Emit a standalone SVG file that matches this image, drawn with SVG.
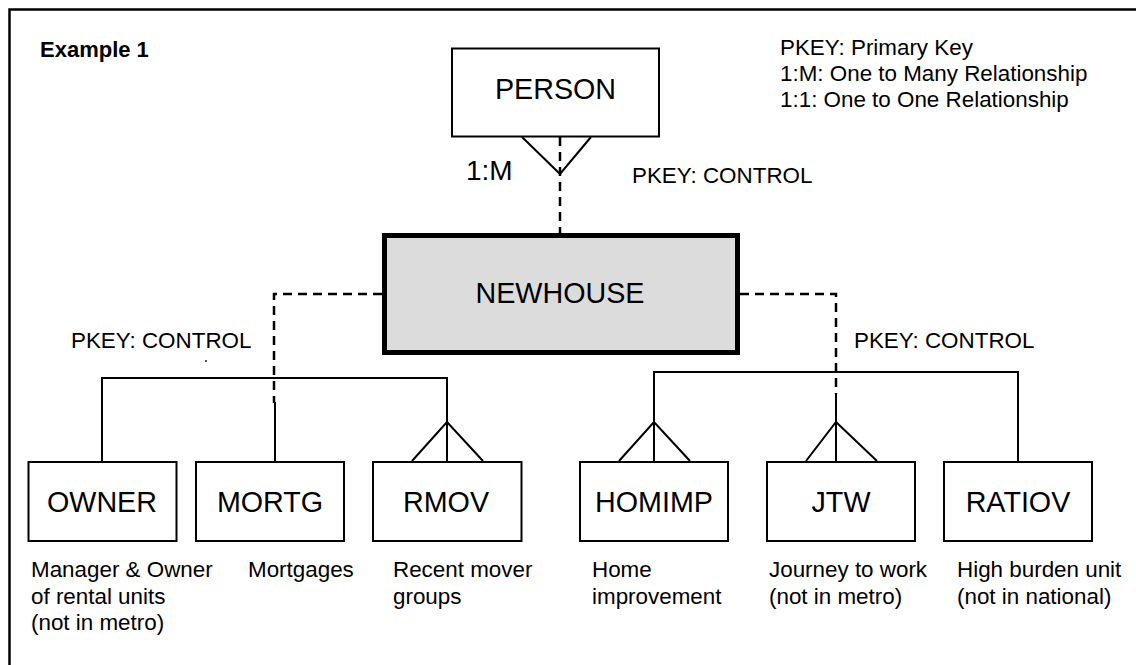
<svg xmlns="http://www.w3.org/2000/svg" width="1136" height="665" viewBox="0 0 1136 665">
<style>
text{font-family:"Liberation Sans",Arial,sans-serif;fill:#000}
.big{font-size:28.7px;text-anchor:middle}
.lab{font-size:22.4px}
.desc{font-size:22.4px}
.box{fill:#fff;stroke:#000;stroke-width:2}
.solid{fill:none;stroke:#000;stroke-width:2}
.dash{fill:none;stroke:#000;stroke-width:2.5;stroke-dasharray:9,6}
</style>
<rect width="1136" height="665" fill="#fff"/>
<path d="M9.5,665 V9.5 H1136" fill="none" stroke="#000" stroke-width="2.5"/>
<text x="40" y="57" style="font-size:22px;font-weight:bold">Example 1</text>
<g id="legend" class="lab">
<text x="780" y="55">PKEY: Primary Key</text>
<text x="780" y="81">1:M: One to Many Relationship</text>
<text x="780" y="107">1:1: One to One Relationship</text>
</g>
<g id="connectors">
<path class="dash" d="M560,137 V233"/>
<path class="solid" d="M522,137 L560,174 L591,137"/>
<path class="dash" d="M382,294 H274 V403"/>
<path class="dash" d="M740,294 H836 V394"/>
<path class="solid" d="M102,462 V378 H447 V462"/>
<path class="solid" d="M275,402 V462"/>
<path class="solid" d="M412,461 L447,422 L483,461"/>
<path class="solid" d="M654,462 V372 H1018 V462"/>
<path class="solid" d="M619,461 L654,422 L690,461"/>
<path class="solid" d="M836,394 V462"/>
<path class="solid" d="M806,461 L836,422 L877,461"/>
<circle cx="206" cy="361" r="0.9" fill="#000"/>
</g>
<text x="466" y="180" style="font-size:28px">1:M</text>
<text x="632" y="183" class="lab">PKEY: CONTROL</text>
<text x="71" y="348" class="lab">PKEY: CONTROL</text>
<text x="854" y="348" class="lab">PKEY: CONTROL</text>
<g id="person">
<rect class="box" x="452" y="48.5" width="207" height="88"/>
<text class="big" x="555.5" y="99">PERSON</text>
</g>
<g id="newhouse">
<rect x="384.5" y="235.5" width="353" height="117" fill="#dcdcdc" stroke="#000" stroke-width="5"/>
<text class="big" x="560" y="303">NEWHOUSE</text>
</g>
<g id="owner">
<rect class="box" x="28.5" y="462" width="148" height="79"/>
<text class="big" x="102" y="512">OWNER</text>
<text class="desc" x="31" y="577">Manager &amp; Owner</text>
<text class="desc" x="31" y="604">of rental units</text>
<text class="desc" x="31" y="630">(not in metro)</text>
</g>
<g id="mortg">
<rect class="box" x="196" y="462" width="148" height="79"/>
<text class="big" x="270" y="512">MORTG</text>
<text class="desc" x="248" y="577">Mortgages</text>
</g>
<g id="rmov">
<rect class="box" x="373" y="462" width="148.5" height="79"/>
<text class="big" x="446" y="512">RMOV</text>
<text class="desc" x="393" y="577">Recent mover</text>
<text class="desc" x="393" y="604">groups</text>
</g>
<g id="homimp">
<rect class="box" x="580" y="462" width="148" height="79"/>
<text class="big" x="654" y="512">HOMIMP</text>
<text class="desc" x="592" y="577">Home</text>
<text class="desc" x="592" y="604">improvement</text>
</g>
<g id="jtw">
<rect class="box" x="767" y="462" width="148" height="79"/>
<text class="big" x="841" y="512">JTW</text>
<text class="desc" x="769" y="577">Journey to work</text>
<text class="desc" x="769" y="604">(not in metro)</text>
</g>
<g id="ratiov">
<rect class="box" x="944" y="462" width="148" height="79"/>
<text class="big" x="1018" y="512">RATIOV</text>
<text class="desc" x="957" y="577">High burden unit</text>
<text class="desc" x="957" y="604">(not in national)</text>
</g>
</svg>
